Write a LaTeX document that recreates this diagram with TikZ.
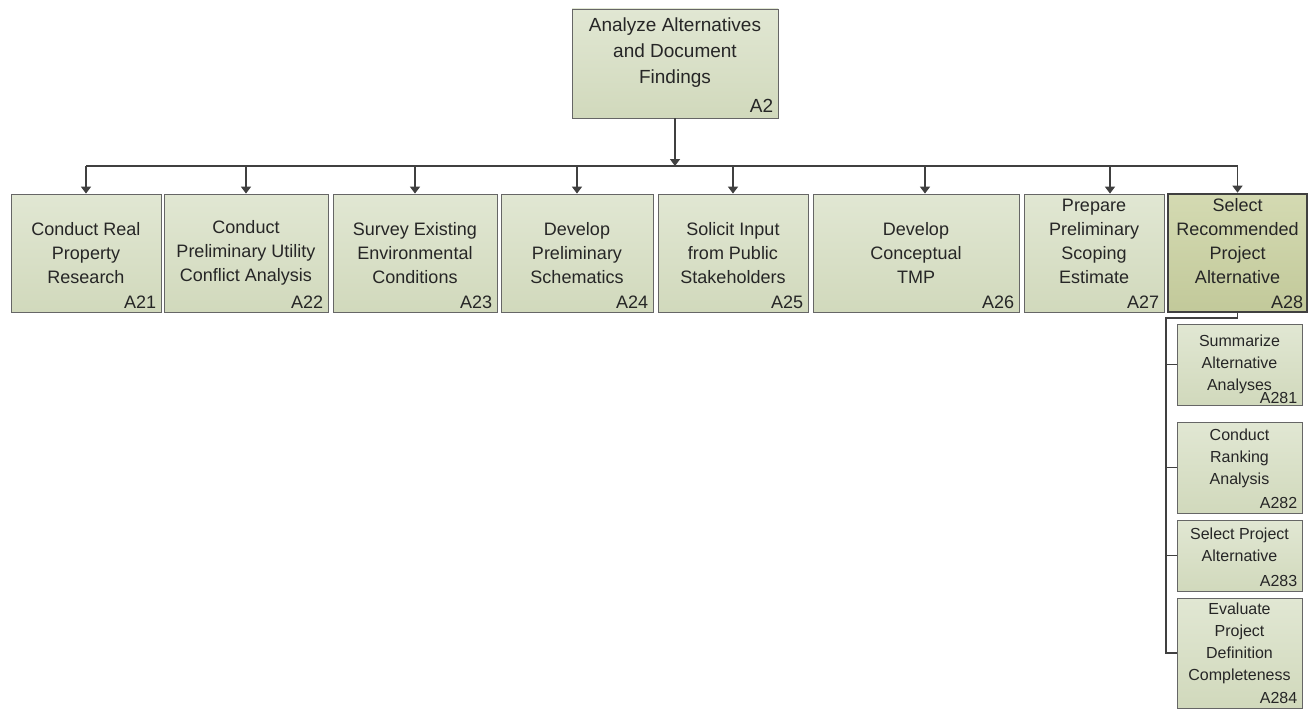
\documentclass[tikz,border=0pt]{standalone}
\usepackage{fontspec}
\setmainfont{Liberation Sans}
\usetikzlibrary{positioning, arrows.meta}

\definecolor{boxtop}{HTML}{E1E7D3}
\definecolor{boxbot}{HTML}{D1D9BC}
\definecolor{seltop}{HTML}{D4DAB2}
\definecolor{selbot}{HTML}{C2C99A}
\definecolor{linegray}{HTML}{404040}

\tikzset{
  task/.style={draw=black!60, line width=0.8pt, top color=boxtop, bottom color=boxbot,
    align=center, inner sep=0pt, text=black!85, font=\fontsize{18}{24}\selectfont},
  sel/.style={task, draw=linegray, line width=2.6pt, top color=seltop, bottom color=selbot},
  sub/.style={task, font=\fontsize{16}{22}\selectfont},
  code/.style={anchor=south east, inner xsep=5pt, inner ysep=4pt, text=black!85,
    font=\fontsize{18}{24}\selectfont},
  subcode/.style={code, inner ysep=5pt, font=\fontsize{16}{22}\selectfont},
  conn/.style={draw=linegray, line width=1.4pt},
  arr/.style={conn, -{Triangle[width=10pt,length=7pt]}},
}

\begin{document}
\begin{tikzpicture}[x=1pt, y=-1pt]
  \useasboundingbox (0,0) rectangle (1309,709);

  % Nodo de arriba
  \node[task, minimum width=206pt, minimum height=109pt, font=\fontsize{19}{26}\selectfont,
    label={[code, inner ysep=6pt, font=\fontsize{19}{26}\selectfont]south east:A2}]
    (a2) at (675,63.5) {Analyze Alternatives\\and Document\\Findings\\ \mbox{}};

  % Fila de tareas
  \node[task, minimum width=150pt, minimum height=118pt, label={[code]south east:A21}]
    (a21) at (86,253) {Conduct Real\\Property\\Research};
  \node[task, minimum width=164pt, minimum height=118pt, label={[code]south east:A22}]
    (a22) at (246,253) {Conduct\\Preliminary Utility\\Conflict Analysis};
  \node[task, minimum width=164pt, minimum height=118pt, label={[code]south east:A23}]
    (a23) at (415,253) {Survey Existing\\Environmental\\Conditions};
  \node[task, minimum width=152pt, minimum height=118pt, label={[code]south east:A24}]
    (a24) at (577,253) {Develop\\Preliminary\\Schematics};
  \node[task, minimum width=150pt, minimum height=118pt, label={[code]south east:A25}]
    (a25) at (733,253) {Solicit Input\\from Public\\Stakeholders};
  \node[task, minimum width=206pt, minimum height=118pt, label={[code]south east:A26}]
    (a26) at (916,253) {Develop\\Conceptual\\TMP};
  \node[task, minimum width=140pt, minimum height=118pt, label={[code]south east:A27}]
    (a27) at (1094,253) {Prepare\\Preliminary\\Scoping\\Estimate\\ \mbox{}};
  \node[sel, minimum width=139pt, minimum height=118pt, label={[code]south east:A28}]
    (a28) at (1237.5,253) {Select\\Recommended\\Project\\Alternative\\ \mbox{}};

  % Subtareas de A28
  \node[sub, minimum width=125pt, minimum height=81pt,
    label={[subcode, inner ysep=2pt]south east:A281}]
    (a281) at (1239.5,364.5) {Summarize\\Alternative\\Analyses};
  \node[sub, minimum width=125pt, minimum height=91pt, label={[subcode]south east:A282}]
    (a282) at (1239.5,467.5) {Conduct\\Ranking\\Analysis\\ \mbox{}};
  \node[sub, minimum width=125pt, minimum height=71pt, label={[subcode]south east:A283}]
    (a283) at (1239.5,555.5) {Select Project\\Alternative\\ \mbox{}};
  \node[sub, minimum width=125pt, minimum height=110pt, label={[subcode]south east:A284}]
    (a284) at (1239.5,653) {Evaluate\\Project\\Definition\\Completeness\\ \mbox{}};

  % Conexiones
  \coordinate (bus) at (675,166);
  \coordinate (spine) at (1166,318);
  \draw[arr] (a2.south) -- (bus);
  \draw[conn] (a21.north |- bus) -- (a28.north |- bus);
  \foreach \n/\s in {a21/0, a22/0, a23/0, a24/0, a25/0, a26/9, a27/16, a28/0}
    \draw[arr] ([xshift=\s pt]\n.north |- bus) -- ([xshift=\s pt]\n.north);

  \draw[conn] (a28.south) |- (spine) -- (spine |- a284.west) -- (a284.west);
  \foreach \n in {a281, a282, a283}
    \draw[conn] (spine |- \n.west) -- (\n.west);
\end{tikzpicture}
\end{document}
